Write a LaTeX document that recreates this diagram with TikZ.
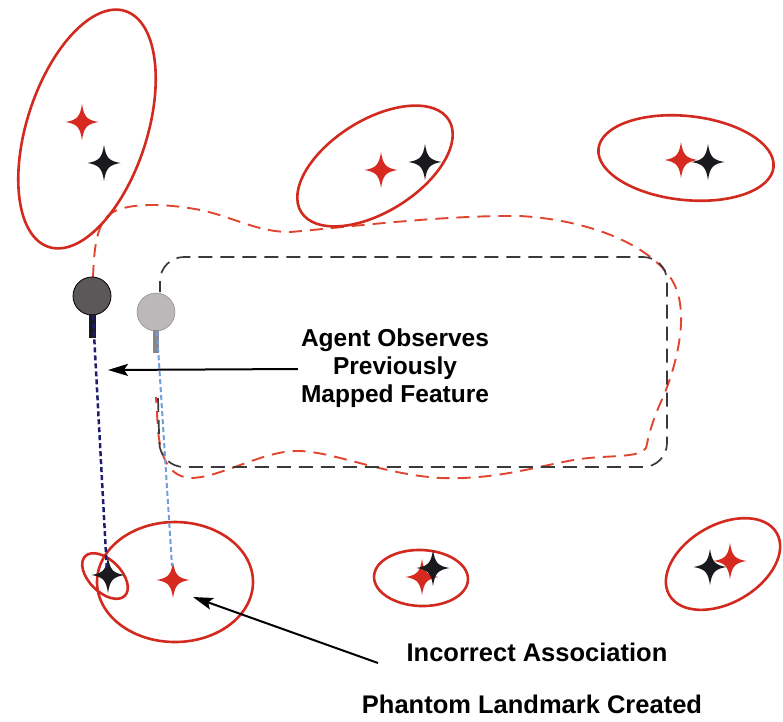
\documentclass[tikz,border=0pt]{standalone}
\usepackage{fontspec}
\setmainfont{Liberation Sans}
\usetikzlibrary{arrows.meta,shapes.geometric}
\definecolor{ered}{HTML}{D22A1F}
\definecolor{sred}{HTML}{D62A20}
\definecolor{sblk}{HTML}{1A1A1E}
\definecolor{tred}{HTML}{E2452F}
\definecolor{tgray}{HTML}{3A3A3A}
\definecolor{dblue}{HTML}{1E1E70}
\definecolor{lblue}{HTML}{6E9EE0}
\definecolor{robdark}{HTML}{5C585A}
\definecolor{roblight}{HTML}{BCB8BA}
\definecolor{roblightedge}{HTML}{969294}
\definecolor{stemlight}{HTML}{8A8688}
\begin{document}
\begin{tikzpicture}[x=1pt,y=1pt,
  ell/.style={draw=ered, line width=2.6pt, ellipse, inner sep=0pt},
  star4/.pic={\fill (0,18) .. controls (2,5) and (5,2) .. (16.5,0)
      .. controls (5,-2) and (2,-5) .. (0,-18)
      .. controls (-2,-5) and (-5,-2) .. (-16.5,0)
      .. controls (-5,2) and (-2,5) .. cycle;},
  redtrack/.style={draw=tred, line width=1.9pt, dash pattern=on 13pt off 8pt},
  blktrack/.style={draw=tgray, line width=1.7pt, dash pattern=on 14pt off 8pt},
  ray/.style={dash pattern=on 5pt off 3pt},
  pointer/.style={draw=black, line width=2pt, -{Stealth[length=20pt,width=12pt,inset=4pt]}},
  label/.style={font=\bfseries\fontsize{24.5}{28}\selectfont, inner sep=0pt, align=center},
  robotdark/.style={circle, draw=black, line width=0.8pt, fill=robdark, minimum size=38pt, inner sep=0pt},
  robotlight/.style={circle, draw=roblightedge, line width=0.6pt, fill=roblight, minimum size=38pt, inner sep=0pt}
]
\useasboundingbox (0,0) rectangle (783,-721);

% estimated trajectory (red dashed)
\draw[redtrack] (93,-278) .. controls (94,-250) and (96,-225) .. (110,-214)
  .. controls (125,-203) and (160,-203) .. (195,-209)
  .. controls (230,-215) and (255,-232) .. (290,-232)
  .. controls (340,-228) and (440,-215) .. (520,-216)
  .. controls (590,-220) and (650,-245) .. (672,-280)
  .. controls (690,-310) and (678,-360) .. (664,-395)
  .. controls (650,-425) and (648,-440) .. (646,-448)
  .. controls (640,-458) and (610,-455) .. (580,-459)
  .. controls (540,-465) and (500,-480) .. (440,-478)
  .. controls (380,-474) and (330,-450) .. (295,-451)
  .. controls (260,-452) and (220,-478) .. (190,-478)
  .. controls (165,-476) and (160,-450) .. (158,-430)
  -- (156,-397);

% true trajectory (black dashed)
\draw[blktrack, rounded corners=24pt] (158,-398) -- (160,-467) -- (667,-467)
  -- (667,-257) -- (160,-257) -- (160,-292);

% ellipses
\node[ell, minimum width=248pt, minimum height=120pt, rotate=72] (e1) at (87,-129) {};
\node[ell, minimum width=174pt, minimum height=92pt, rotate=32] (e2) at (375,-166) {};
\node[ell, minimum width=176pt, minimum height=84pt, rotate=-6] (e3) at (686,-158) {};
\node[ell, minimum width=156pt, minimum height=120pt] (e4) at (175,-582) {};
\node[ell, minimum width=56pt, minimum height=32pt, rotate=-45] (e5) at (105,-576) {};
\node[ell, minimum width=94pt, minimum height=56pt, rotate=-2] (e6) at (421,-578) {};
\node[ell, minimum width=124pt, minimum height=78pt, rotate=30] (e7) at (723,-564) {};

% landmarks
\pic[sred] at (82,-122) {star4};
\pic[sblk] at (104,-163) {star4};
\pic[sred] at (381,-170) {star4};
\pic[sblk] at (425,-162) {star4};
\pic[sred] at (681,-160) {star4};
\pic[sblk] at (708,-162) {star4};
\pic[sblk] at (108,-575) {star4};
\pic[sred] at (173,-580) {star4};
\pic[sred] at (422,-577) {star4};
\pic[sblk] at (433,-568) {star4};
\pic[sblk] at (710,-567) {star4};
\pic[sred] at (730,-561) {star4};
\coordinate (blackLm) at (107,-572);
\coordinate (phantom) at (172,-566);

% robots
\node[robotdark] (robA) at (92,-296) {};
\fill[sblk] (88.5,-314) rectangle (95.5,-338);
\node[robotlight] (robB) at (156,-312) {};
\fill[stemlight] (153,-330) rectangle (159,-353);

% observation rays
\draw[ray, dblue, line width=2.5pt] (robA.south) ++(1,0) -- (blackLm);
\draw[ray, lblue, line width=2pt] (robB.south) ++(1,0) -- (phantom);

% labels
\node[label] (agent) at (395,-368) {Agent Observes\\Previously\\Mapped Feature};
\coordinate (tipA) at (108,-370);
\draw[pointer] (agent.west) ++(-3,-1) -- (tipA);

\node[label, font=\bfseries\fontsize{25.5}{28}\selectfont, anchor=base] (incorrect) at (537,-661) {Incorrect Association};
\node[label, font=\bfseries\fontsize{25.5}{28}\selectfont, anchor=base] (created) at (532,-713) {Phantom Landmark Created};
\coordinate (a2start) at (378,-663);
\coordinate (tipB) at (193,-597);
\draw[pointer] (a2start) -- (tipB);
\end{tikzpicture}
\end{document}
